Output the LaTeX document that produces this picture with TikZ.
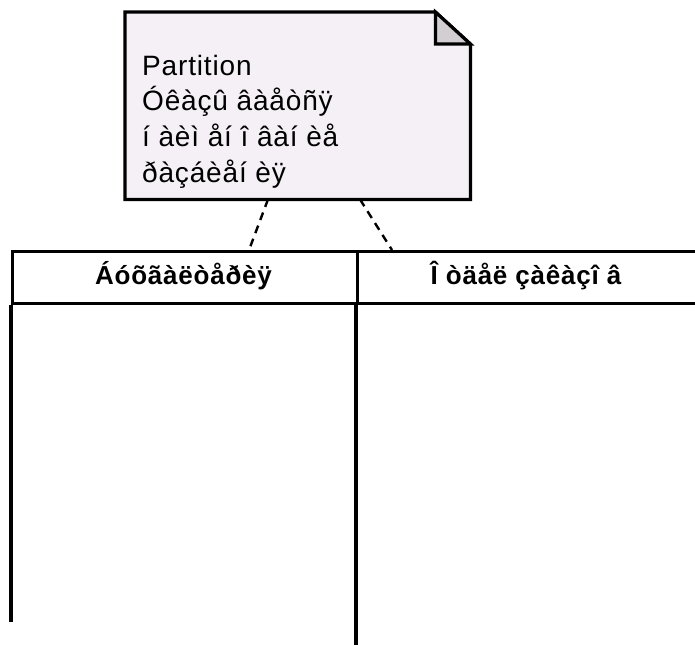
\documentclass[tikz,border=0pt]{standalone}
\usepackage{fontspec}
\setmainfont{Liberation Sans}
\usetikzlibrary{calc}
\definecolor{notefill}{RGB}{244,240,245}
\definecolor{foldfill}{RGB}{210,206,210}
\begin{document}
\begin{tikzpicture}[x=1pt,y=-1pt,
  outline/.style={draw=black, line width=3.2pt},
  notetext/.style={anchor=base west, inner sep=0pt, font=\fontsize{28}{32}\selectfont\addfontfeature{LetterSpace=3}},
  lanehead/.style={anchor=base, inner sep=0pt, font=\fontsize{26}{30}\selectfont\bfseries\addfontfeature{LetterSpace=3}},
  headbox/.style={outline, minimum height=52pt, anchor=north west, inner sep=0pt},
  link/.style={draw=black, line width=2.4pt, dash pattern=on 8pt off 6pt}]
\useasboundingbox (0,0) rectangle (695,645);
% note
\node[minimum width=345pt, minimum height=187pt, anchor=north west, inner sep=0pt] (note) at (125,12) {};
\draw[outline, fill=notefill] (note.north west) -- ($(note.north east)+(-35,0)$) -- ($(note.north east)+(0,32)$) -- (note.south east) -- (note.south west) -- cycle;
\draw[outline, fill=foldfill] ($(note.north east)+(-35,0)$) -- ($(note.north east)+(-35,32)$) -- ($(note.north east)+(0,32)$) -- cycle;
\node[notetext] (t1) at (142,75) {Partition};
\node[notetext] (t2) at (142,110) {Óêàçû âàåòñÿ};
\node[notetext] (t3) at (142,146) {í àèì åí î âàí èå};
\node[notetext] (t4) at (142,182) {ðàçáèåí èÿ};
% lanes
\node[headbox, minimum width=345pt] (hA) at (11,250) {};
\node[headbox, minimum width=342pt] (hB) at (356,250) {};
\node[lanehead] (lA) at (183.5,284) {Áóõãàëòåðèÿ};
\node[lanehead] (lB) at (526,284) {Î òäåë çàêàçî â};
\coordinate (endA) at (11,622);
\coordinate (endM) at (356,645);
\draw[outline] (hA.south west) -- (endA);
\draw[outline] (hB.south west) -- (endM);
% connectors
\coordinate (n1) at ($(note.south west)+(143,0)$);
\coordinate (n2) at ($(note.south west)+(235,0)$);
\coordinate (a1) at ($(hA.north west)+(238,0)$);
\coordinate (b1) at ($(hB.north west)+(36,0)$);
\draw[link] (n1) -- (a1);
\draw[link] (n2) -- (b1);
\end{tikzpicture}
\end{document}
